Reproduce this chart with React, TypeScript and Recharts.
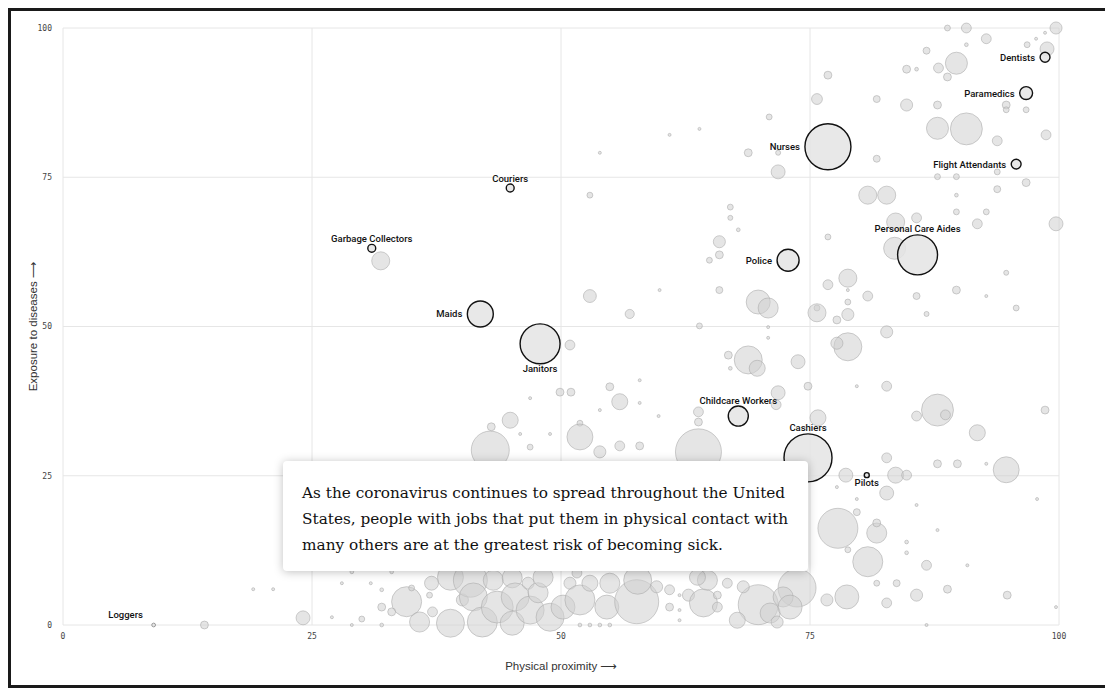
import React from 'react';
import { ScatterChart, Scatter, XAxis, YAxis, ZAxis, CartesianGrid } from 'recharts';

// [physical proximity, exposure to diseases, workers (millions)]
type Row = [number, number, number];

const upperRight: Row[] = [
  [88.8, 100, 0.05], [90.7, 100, 0.14], [99.7, 100, 0.21], [92.7, 98.2, 0.14], [86.7, 96.2, 0.07],
  [90.7, 97.2, 0.02], [96.8, 97.2, 0.05], [97.7, 98.2, 0.013], [98.6, 99.2, 0.013], [98.8, 96.5, 0.28],
  [89.7, 94.1, 0.7], [87.9, 93.3, 0.14], [88.8, 91.8, 0.09], [84.7, 93.1, 0.09], [85.7, 93.1, 0.02],
  [76.8, 92.1, 0.09], [75.7, 88.1, 0.17], [81.7, 88.1, 0.07], [84.7, 87.1, 0.21], [87.8, 87.1, 0.09],
  [94.7, 87.1, 0.09], [96.7, 86.3, 0.05], [94.7, 86.3, 0.05], [87.8, 83.2, 0.7], [90.7, 83.1, 1.47],
  [93.8, 81.1, 0.14], [98.7, 82.1, 0.14], [70.9, 85.1, 0.05], [68.8, 79.1, 0.09], [71.8, 79.1, 0.036],
  [71.8, 75.9, 0.28], [81.7, 78.1, 0.07], [60.9, 82.1, 0.013], [63.9, 83.1, 0.013], [53.9, 79.1, 0.013],
  [93.8, 75.9, 0.05], [87.8, 75.1, 0.05], [89.7, 75.1, 0.05], [96.7, 74.1, 0.09], [93.8, 73, 0.07],
  [89.7, 72, 0.02], [80.8, 72, 0.47], [82.7, 72, 0.47], [52.9, 72, 0.05], [89.7, 69.2, 0.05],
  [92.7, 69.2, 0.05], [91.8, 67.2, 0.14], [99.7, 67.2, 0.28], [85.7, 68.2, 0.14], [83.6, 67.5, 0.47],
  [83.5, 63.1, 0.7], [76.8, 65, 0.05], [31.9, 61, 0.47],
];

const middle: Row[] = [
  [67, 70, 0.05], [67, 68.2, 0.036], [67.8, 66.2, 0.02], [65.9, 64.2, 0.21], [65.9, 62, 0.09],
  [64.9, 61.1, 0.05], [59.9, 56.1, 0.013], [65.9, 56.1, 0.07], [52.9, 55.1, 0.24], [56.9, 52.1, 0.12],
  [63.9, 50.1, 0.05], [69.8, 54.1, 0.83], [70.8, 53.1, 0.58], [70.8, 49.9, 0.013], [70.8, 48.1, 0.013],
  [75.7, 53.1, 0.05], [75.7, 52.3, 0.47], [76.8, 57, 0.14], [78.8, 58.1, 0.47], [78.8, 56.1, 0.013],
  [78.8, 54.1, 0.05], [78.8, 52, 0.21], [77.7, 51.1, 0.09], [80.8, 55.1, 0.14], [82.7, 49.1, 0.21],
  [85.7, 55.1, 0.07], [86.7, 52.1, 0.036], [89.7, 56.1, 0.09], [92.7, 55.1, 0.013], [94.7, 59, 0.036],
  [95.7, 53.1, 0.05], [78.8, 46.6, 1.13], [77.7, 47.2, 0.21],
  [68.8, 44.4, 1.13], [69.7, 43, 0.37], [66.8, 45.2, 0.09], [73.8, 44.1, 0.28], [67, 43, 0.02],
  [50.9, 46.9, 0.14], [54.9, 39.9, 0.09], [57.9, 41, 0.013], [49.9, 39, 0.09], [51, 39, 0.09],
  [55.9, 37.4, 0.37], [57.9, 37.2, 0.013], [59.8, 35, 0.013], [53.9, 36, 0.013], [51.9, 33.8, 0.05],
  [51.9, 31.5, 0.97], [63.8, 35.7, 0.14], [63.8, 34, 0.09], [71.8, 38.9, 0.28], [71.6, 36.9, 0.14],
  [75.8, 34.7, 0.37], [74.8, 40, 0.09], [79.7, 40, 0.013], [82.7, 40, 0.14], [87.8, 36, 1.47],
  [85.7, 35, 0.14], [88.6, 35.2, 0.14], [98.6, 36, 0.09], [91.8, 32.2, 0.37], [63.8, 29, 3.05],
  [42.9, 29.3, 2.08], [43, 33.2, 0.09], [44.9, 34.3, 0.37], [46.9, 29.8, 0.05], [45.9, 32, 0.013],
  [46.9, 38, 0.013], [48.9, 32, 0.013], [53.9, 29, 0.21], [55.9, 30, 0.14], [57.9, 30, 0.09],
];

const lowerRight: Row[] = [
  [78.6, 25.1, 0.28], [77.7, 23.1, 0.013], [82.7, 28, 0.14], [83.6, 25.1, 0.37], [84.7, 25.1, 0.14],
  [87.8, 27, 0.09], [89.8, 27, 0.09], [92.7, 27, 0.013], [94.7, 26, 0.97], [82.7, 22.1, 0.28],
  [79.7, 21.1, 0.013], [79.7, 18.9, 0.07], [77.8, 16.2, 2.3], [81.7, 15.4, 0.58], [81.7, 17.1, 0.09],
  [85.7, 20.1, 0.013], [87.8, 15.9, 0.013], [97.8, 21.1, 0.013], [84.7, 13.9, 0.02], [84.7, 12.1, 0.02],
  [80.8, 10.6, 1.3], [86.7, 10, 0.14], [90.8, 10, 0.013], [78.8, 12.6, 0.05], [81.7, 7, 0.05],
  [83.7, 7, 0.07], [88.8, 6, 0.09], [85.7, 5, 0.21], [82.7, 3.7, 0.14], [94.8, 5, 0.09],
  [99.7, 3, 0.013], [86.7, 0, 0.013], [78.7, 4.7, 0.83], [76.7, 4.2, 0.21], [73.7, 6.2, 2.08],
  [69.8, 3.4, 2.3],
];

const lowerLeft: Row[] = [
  [14.2, 0, 0.09], [24.1, 1.2, 0.28], [19.1, 6, 0.013], [21.1, 6, 0.013], [29, 0, 0.013],
  [27, 1.3, 0.013], [28, 7, 0.013], [30.9, 7, 0.013], [29, 8.9, 0.02], [33, 8.9, 0.02],
  [32, 5.9, 0.02], [32, 3, 0.09], [32, 0, 0.02], [30, 1, 0.05], [34.5, 3.9, 1.3],
  [35.8, 0.5, 0.58], [33, 2.2, 0.09], [35, 6.2, 0.05], [37, 7, 0.28], [36.8, 5, 0.05],
  [37.1, 2.2, 0.14], [38.9, 8, 0.97], [38.9, 0.3, 1.13], [40.1, 4.2, 0.21], [40.9, 7.5, 1.66],
  [41.2, 4.7, 1.13], [42.1, 0.5, 1.3], [43.6, 3, 1.47], [43.2, 7.5, 0.58], [45.1, 7.9, 0.58],
  [45.4, 4.7, 1.13], [45.1, 0.3, 0.83], [46.9, 2.5, 1.13], [46.7, 7, 0.21], [47.7, 5.4, 0.58],
  [48.2, 8, 0.58], [48.9, 1.3, 1.13], [50.2, 3, 0.83], [50.9, 7, 0.21], [51.6, 8.7, 0.14],
  [51.9, 4.2, 1.3], [52.9, 7, 0.37], [54.9, 7, 0.58], [54.6, 3, 0.83], [51.9, 0, 0.02],
  [52.9, 0, 0.02], [53.9, 0, 0.02], [54.9, 0, 0.02], [57.6, 3.9, 2.79], [57.7, 7.5, 1.13],
  [59.6, 6.4, 0.21], [60.9, 5.9, 0.14], [60.9, 3, 0.09], [61.9, 5, 0.013], [61.9, 2.5, 0.013],
  [61.9, 0.8, 0.013], [62.8, 5, 0.21], [64.3, 3.7, 1.13], [65.7, 3, 0.14], [65.7, 5, 0.09],
  [64.7, 7.5, 0.58], [63.7, 8, 0.37], [66.7, 7, 0.14], [67.7, 0.8, 0.37], [68.3, 6.4, 0.21],
  [71, 2, 0.58], [71.7, 0.5, 0.21], [72.3, 4.7, 0.58], [73, 3, 0.83],
];

// labelled occupations
const occupations = [
  'Dentists', 'Paramedics', 'Nurses', 'Flight Attendants', 'Couriers', 'Garbage Collectors',
  'Personal Care Aides', 'Police', 'Maids', 'Janitors', 'Childcare Workers', 'Cashiers', 'Pilots', 'Loggers',
];
const proximity = [98.6, 96.7, 76.8, 95.7, 44.9, 31.0, 85.8, 72.8, 41.9, 47.9, 67.8, 74.8, 80.7, 9.1];
const exposure = [95.1, 89.1, 80.1, 77.2, 73.2, 63.1, 62.0, 61.1, 52.1, 47.1, 35.0, 28.0, 25.1, 0];
const workers = [0.14, 0.24, 3.05, 0.14, 0.09, 0.09, 2.3, 0.7, 0.97, 2.3, 0.58, 3.32, 0.036, 0.02];

const labelSide: Record<string, string> = {
  Dentists: 'left', Paramedics: 'left', Nurses: 'left', 'Flight Attendants': 'left',
  Couriers: 'top', 'Garbage Collectors': 'top', 'Personal Care Aides': 'top', Police: 'left',
  Maids: 'left', Janitors: 'bottom', 'Childcare Workers': 'top', Cashiers: 'top', Pilots: 'bottom',
  Loggers: 'topleft',
};

const ticks = [0, 25, 50, 75, 100];

const others = [...upperRight, ...middle, ...lowerRight, ...lowerLeft].map(([x, y, z]) => ({ x, y, z }));
const labelled = occupations.map((name, i) => ({ name, x: proximity[i], y: exposure[i], z: workers[i] }));

const labelFont = "Roboto, 'Liberation Sans', sans-serif";

const HighlightDot = (props: any) => {
  const { cx, cy, payload } = props;
  const r = props.width ? props.width / 2 : Math.sqrt((props.size || 0) / Math.PI);
  const side = labelSide[payload.name];
  let tx = cx;
  let ty = cy;
  let anchor = 'middle';
  if (side === 'left') {
    tx = cx - r - 5;
    anchor = 'end';
  } else if (side === 'top') {
    ty = cy - r - 6;
  } else if (side === 'bottom') {
    ty = cy + r + 5;
  } else if (side === 'topleft') {
    tx = cx - 28;
    ty = cy - 11;
  }
  const tiny = side === 'topleft';
  return (
    <g>
      <circle
        cx={cx}
        cy={cy}
        r={Math.max(r, 1.5)}
        fill="#e4e4e4"
        fillOpacity={0.85}
        stroke={tiny ? '#999' : '#111'}
        strokeWidth={tiny ? 1 : 1.4}
      />
      <text x={tx} y={ty} textAnchor={anchor} dominantBaseline="central" fontSize={9.5} fontWeight={500} fontFamily={labelFont} fill="#111">
        {payload.name}
      </text>
    </g>
  );
};

const App = () => {
  return (
    <div
      style={{
        position: 'relative',
        width: 1094,
        height: 674,
        border: '3px solid #1a1a1a',
        background: '#fff',
        fontFamily: "'Liberation Sans', sans-serif",
      }}
    >
      <ScatterChart width={1094} height={674} margin={{ top: 17, right: 46, bottom: 12, left: 0 }}>
        <CartesianGrid stroke="#e6e6e6" />
        <XAxis
          type="number"
          dataKey="x"
          domain={[0, 100]}
          ticks={ticks}
          axisLine={false}
          tickLine={false}
          height={48}
          tick={{ fontSize: 8, fill: '#444', fontFamily: "'DejaVu Sans Mono', monospace" }}
          label={{
            content: (p: any) => {
              const vb = p.viewBox;
              return (
                <text x={vb.x + vb.width / 2} y={vb.y + 41} textAnchor="middle" dominantBaseline="central" fontSize={11.5} fill="#333" fontFamily="'Liberation Sans', 'DejaVu Sans', sans-serif">
                  Physical proximity ⟶
                </text>
              );
            },
          }}
        />
        <YAxis
          type="number"
          dataKey="y"
          domain={[0, 100]}
          ticks={ticks}
          axisLine={false}
          tickLine={false}
          width={52}
          tickMargin={5}
          tick={{ fontSize: 8, fill: '#444', fontFamily: "'DejaVu Sans Mono', monospace" }}
          label={{
            content: (p: any) => {
              const vb = p.viewBox;
              const lx = vb.x + 22;
              const ly = vb.y + vb.height / 2;
              return (
                <text x={lx} y={ly} transform={`rotate(-90, ${lx}, ${ly})`} textAnchor="middle" dominantBaseline="central" fontSize={11.5} fill="#333" fontFamily="'Liberation Sans', 'DejaVu Sans', sans-serif">
                  Exposure to diseases ⟶
                </text>
              );
            },
          }}
        />
        <ZAxis type="number" dataKey="z" domain={[0, 3.6]} range={[0, 1963]} />
        <Scatter data={others} fill="#cfcfcf" fillOpacity={0.55} stroke="#a8a8a8" strokeOpacity={0.55} strokeWidth={1} isAnimationActive={false} />
        <Scatter data={labelled} shape={HighlightDot} isAnimationActive={false} />
      </ScatterChart>
      <div
        style={{
          position: 'absolute',
          left: 272,
          top: 450,
          width: 525,
          height: 110,
          boxSizing: 'border-box',
          padding: '19px 0 0 19px',
          background: '#fff',
          borderRadius: 4,
          boxShadow: '0 1px 10px rgba(0,0,0,0.25)',
          fontFamily: "'DejaVu Serif', serif",
          fontSize: 15.3,
          lineHeight: '26px',
          color: '#111',
          whiteSpace: 'nowrap',
        }}
      >
        As the coronavirus continues to spread throughout the United
        <br />
        States, people with jobs that put them in physical contact with
        <br />
        many others are at the greatest risk of becoming sick.
      </div>
    </div>
  );
};

export default App;
